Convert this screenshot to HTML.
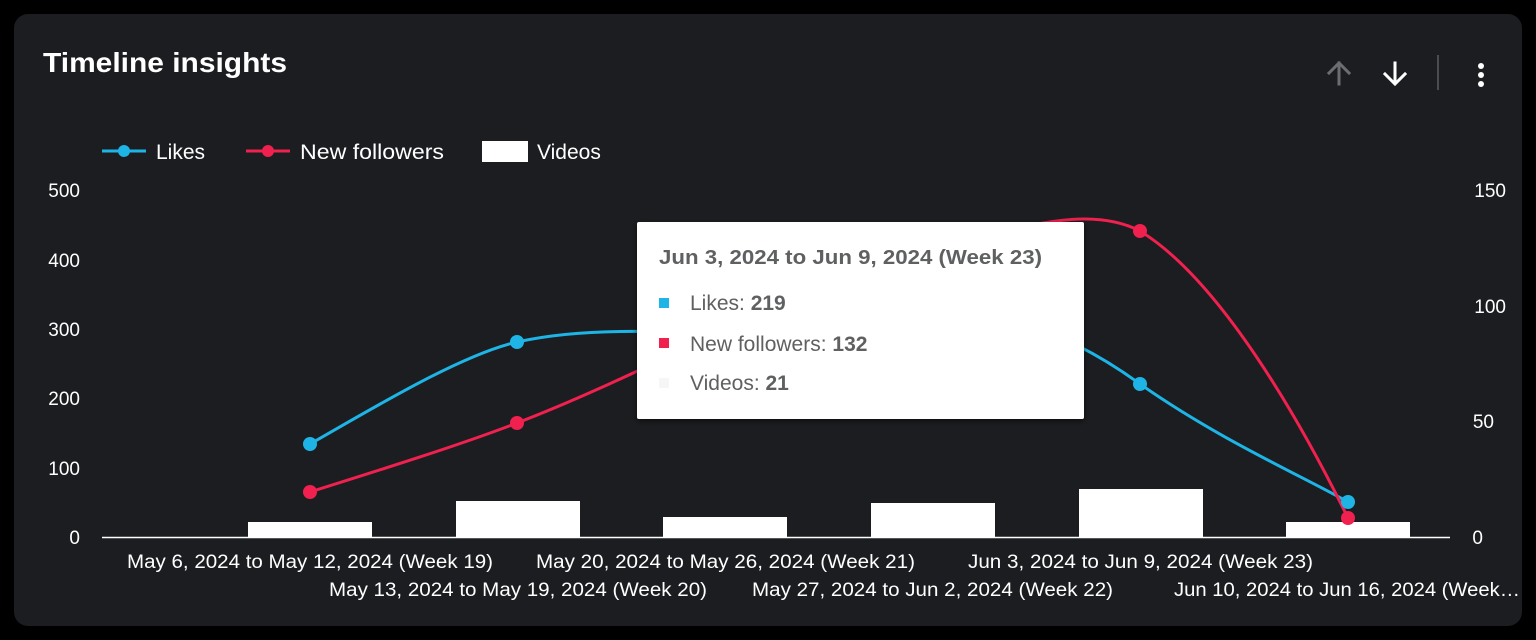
<!DOCTYPE html>
<html><head><meta charset="utf-8"><style>
html,body{margin:0;padding:0;background:#000;width:1536px;height:640px;overflow:hidden}
svg{display:block;font-family:"Liberation Sans",sans-serif}
</style></head><body>
<svg width="1536" height="640" viewBox="0 0 1536 640">
<defs><filter id="sh" x="-10%" y="-10%" width="120%" height="130%"><feDropShadow dx="0" dy="2" stdDeviation="3" flood-color="#000" flood-opacity="0.6"/></filter></defs>
<rect x="14" y="14" width="1508" height="612" rx="14" fill="#1b1d20"/>
<text x="43" y="72" font-size="28" font-weight="bold" fill="#fff" textLength="244" lengthAdjust="spacingAndGlyphs">Timeline insights</text>
<!-- icons -->
<g stroke-width="3" fill="none" stroke-linecap="square">
<path d="M1339 84 V63 M1329 73 L1339 63 L1349 73" stroke="#6b6d70"/>
<path d="M1395 63 V83 M1385 74 L1395 84 L1405 74" stroke="#fff"/>
</g>
<rect x="1437" y="55" width="2" height="35" fill="#4a4c50"/>
<circle cx="1481" cy="66" r="3" fill="#fff"/><circle cx="1481" cy="75" r="3" fill="#fff"/><circle cx="1481" cy="84" r="3" fill="#fff"/>
<!-- legend -->
<line x1="102" y1="151" x2="146" y2="151" stroke="#1fb4e6" stroke-width="3"/><circle cx="124" cy="151" r="6" fill="#1fb4e6"/>
<text x="156" y="159" font-size="21" fill="#fff">Likes</text>
<line x1="246" y1="151" x2="290" y2="151" stroke="#f0204f" stroke-width="3"/><circle cx="268" cy="151" r="6" fill="#f0204f"/>
<text x="300" y="159" font-size="21" fill="#fff" textLength="144" lengthAdjust="spacingAndGlyphs">New followers</text>
<rect x="482" y="141" width="46" height="21" fill="#fff"/>
<text x="537" y="159" font-size="21" fill="#fff">Videos</text>
<!-- axes labels -->
<g font-size="19" fill="#fff" text-anchor="end">
<text x="80" y="197">500</text><text x="80" y="267">400</text><text x="80" y="336">300</text><text x="80" y="405">200</text><text x="80" y="475">100</text><text x="80" y="544">0</text>
</g>
<g font-size="19" fill="#fff" text-anchor="end">
<text x="1506" y="197">150</text><text x="1506" y="313">100</text><text x="1494" y="428">50</text><text x="1483" y="544">0</text>
</g>
<!-- bars -->
<g fill="#fff">
<rect x="248" y="522" width="124" height="15"/>
<rect x="456" y="501" width="124" height="36"/>
<rect x="663" y="517" width="124" height="20"/>
<rect x="871" y="503" width="124" height="34"/>
<rect x="1079" y="489" width="124" height="48"/>
<rect x="1286" y="522" width="124" height="15"/>
</g>
<line x1="102" y1="537.5" x2="1450" y2="537.5" stroke="#fff" stroke-width="1.5"/>
<!-- lines -->
<path d="M310 444 C370 410 460 355 517 342 C580 328 660 330 725 336 C800 342 870 310 932 310 C1010 310 1080 340 1140 384 C1220 440 1300 475 1348 502" fill="none" stroke="#1fb4e6" stroke-width="3"/>
<path d="M310 492 C380 470 460 445 517 423 C590 395 660 360 725 330 C800 290 870 250 932 245 C1000 238 1080 200 1140 231 C1220 280 1300 420 1348 518" fill="none" stroke="#f0204f" stroke-width="3"/>
<g fill="#1fb4e6"><circle cx="310" cy="444" r="7"/><circle cx="517" cy="342" r="7"/><circle cx="1140" cy="384" r="7"/><circle cx="1348" cy="502" r="7"/></g>
<g fill="#f0204f"><circle cx="310" cy="492" r="7"/><circle cx="517" cy="423" r="7"/><circle cx="1140" cy="231" r="7"/><circle cx="1348" cy="518" r="7"/></g>
<!-- x labels -->
<g font-size="19" fill="#fff">
<text x="127" y="568" textLength="366" lengthAdjust="spacingAndGlyphs">May 6, 2024 to May 12, 2024 (Week 19)</text>
<text x="536" y="568" textLength="379" lengthAdjust="spacingAndGlyphs">May 20, 2024 to May 26, 2024 (Week 21)</text>
<text x="968" y="568" textLength="345" lengthAdjust="spacingAndGlyphs">Jun 3, 2024 to Jun 9, 2024 (Week 23)</text>
<text x="329" y="596" textLength="378" lengthAdjust="spacingAndGlyphs">May 13, 2024 to May 19, 2024 (Week 20)</text>
<text x="752" y="596" textLength="361" lengthAdjust="spacingAndGlyphs">May 27, 2024 to Jun 2, 2024 (Week 22)</text>
<text x="1174" y="596" textLength="346" lengthAdjust="spacingAndGlyphs">Jun 10, 2024 to Jun 16, 2024 (Week…</text>
</g>
<!-- tooltip -->
<rect x="637" y="222" width="447" height="197" rx="2" fill="#fff" filter="url(#sh)"/>
<text x="659" y="264" font-size="20" font-weight="bold" fill="#5f6061" textLength="383" lengthAdjust="spacingAndGlyphs">Jun 3, 2024 to Jun 9, 2024 (Week 23)</text>
<rect x="659" y="298" width="10" height="10" fill="#1fb4e6"/>
<text x="690" y="310" font-size="21" fill="#5f6061">Likes: <tspan font-weight="bold">219</tspan></text>
<rect x="659" y="338" width="10" height="10" fill="#f0204f"/>
<text x="690" y="351" font-size="21" fill="#5f6061">New followers: <tspan font-weight="bold">132</tspan></text>
<rect x="659" y="378" width="10" height="10" fill="#f6f6f6"/>
<text x="690" y="390" font-size="21" fill="#5f6061">Videos: <tspan font-weight="bold">21</tspan></text>
</svg>
</body></html>
